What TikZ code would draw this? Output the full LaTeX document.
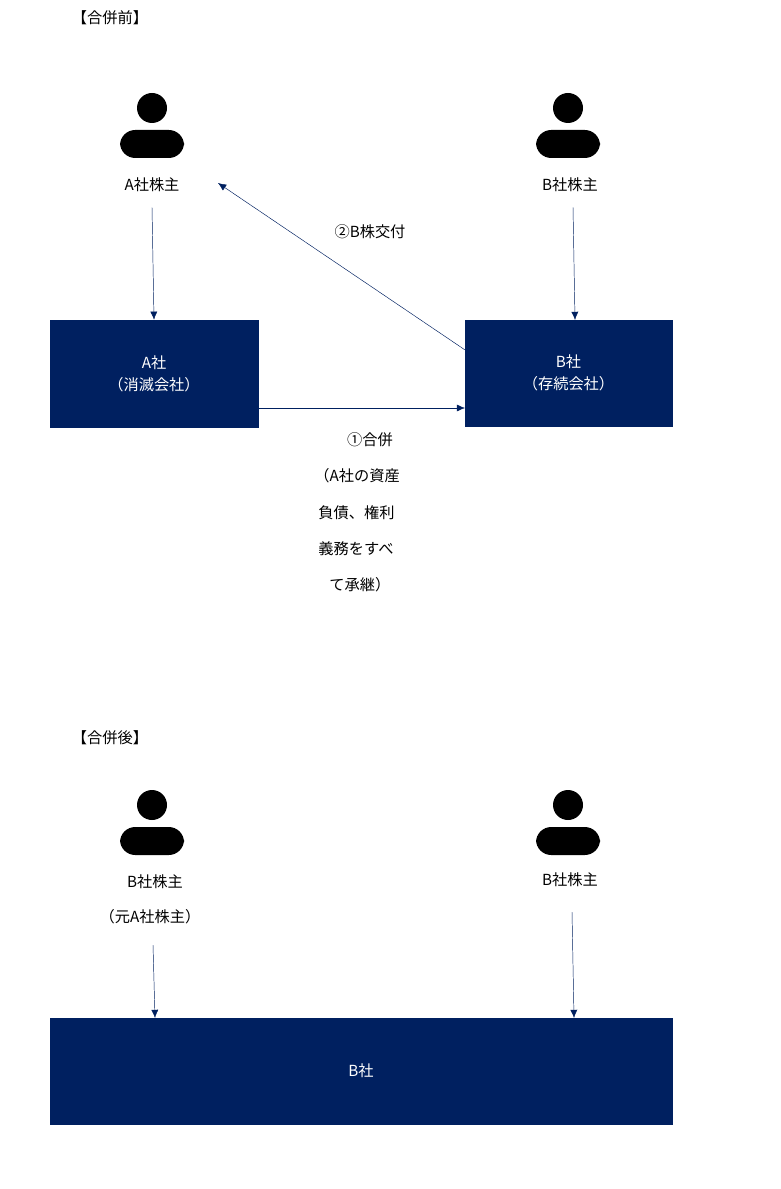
\documentclass[tikz,border=0pt]{standalone}
\usepackage{fontspec}
\setmainfont{Noto Sans CJK JP}
\usetikzlibrary{arrows.meta, positioning}
\definecolor{navy}{HTML}{002060}

\tikzset{
  co/.style={fill=navy, draw=navy, text=white, font=\fontsize{13}{16}\selectfont},
  lbl/.style={font=\fontsize{13}{16}\selectfont, inner sep=1pt},
  link/.style={navy, -{Latex[length=7pt,width=6pt]}},
  person/.pic={
    \fill (0,-17) circle (15);
    \fill[rounded corners=13pt] (-32,33) -- (-32,5) -- (32,5) -- (32,33) -- cycle;
  }
}

\begin{document}
\begin{tikzpicture}[x=0.03cm, y=-0.03cm]
        \useasboundingbox (0,0) rectangle (780,1189);

        % Before merger
        \node[lbl] (title1) at (110,18) {【合併前】};
        \pic at (152,125) {person};
        \pic at (568,125) {person};
        \node[lbl] (ash) at (152,185) {A社株主};
        \node[lbl] (bsh) at (570,185) {B社株主};

        \node[co, minimum width=208*0.03cm, minimum height=107*0.03cm, align=center] (a) at (154,373.5) {A社\\[3pt]（消滅会社）};
        \node[co, minimum width=207*0.03cm, minimum height=106*0.03cm, align=center] (b) at (568.5,373) {B社\\[3pt]（存続会社）};

        \draw[link] (ash.south) ++(0,14) -- (a.north);
        \draw[link] (bsh.south) ++(3,14) -- (575,320);
        \draw[link] (b.north west) ++(0,30) -- (218,183);
        \node[lbl] (give) at (370,232) {②B株交付};
        \draw[link] (258,408) -- (465,408);

        % Merger note
        \node[lbl] (m1) at (370,440) {①合併};
        \node[lbl, anchor=west] (m2) at (313,476) {（A社の資産};
        \node[lbl, anchor=west] (m3) at (317,513) {負債、権利};
        \node[lbl, anchor=west] (m4) at (317,549) {義務をすべ};
        \node[lbl, anchor=west] (m5) at (328,585) {て承継）};

        % After merger
        \node[lbl] (title2) at (110,738) {【合併後】};
        \pic at (152,822) {person};
        \pic at (568,822) {person};
        \node[lbl] (bsh1) at (155,882) {B社株主};
        \node[lbl] (old) at (150,917) {（元A社株主）};
        \node[lbl] (bsh2) at (570,880) {B社株主};

        \node[co, minimum width=622*0.03cm, minimum height=106*0.03cm] (bb) at (361,1071) {B社};
        \draw[link] (153,945) -- (155,1018);
        \draw[link] (572,912) -- (574,1018);
    \end{tikzpicture}
\end{document}
